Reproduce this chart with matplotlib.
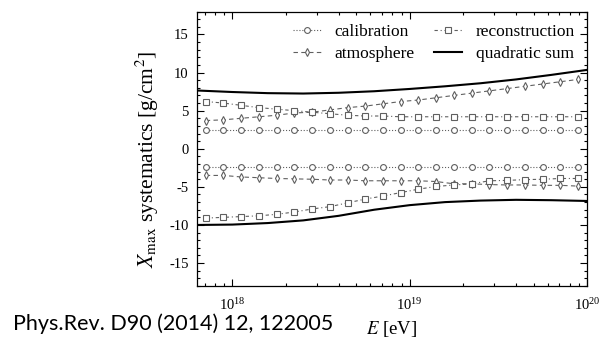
import matplotlib
matplotlib.use("Agg")
import matplotlib.pyplot as plt
import numpy as np
from matplotlib.ticker import MultipleLocator, LogLocator, NullFormatter

plt.rcParams['font.family'] = ['Liberation Serif', 'DejaVu Serif']
plt.rcParams['mathtext.fontset'] = 'stix'
plt.rcParams['axes.unicode_minus'] = False

# log10(E/eV) bin centres of the systematic points
log_e = [17.85, 17.95, 18.05, 18.15, 18.25, 18.35, 18.45, 18.55, 18.65, 18.75, 18.85,
         18.95, 19.05, 19.15, 19.25, 19.35, 19.45, 19.55, 19.65, 19.75, 19.85, 19.95]

# systematic uncertainties [g/cm^2], upper and lower
calib_up = [2.5] * 22
calib_lo = [-2.4] * 22
atmo_up = [3.7, 3.8, 4.0, 4.2, 4.4, 4.7, 4.8, 5.1, 5.4, 5.6, 5.9,
           6.2, 6.4, 6.7, 7.0, 7.3, 7.6, 7.9, 8.2, 8.5, 8.8, 9.1]
atmo_lo = [-3.5, -3.5, -3.7, -3.8, -3.9, -3.95, -4.0, -4.1, -4.1, -4.2, -4.2,
           -4.2, -4.2, -4.3, -4.6, -4.6, -4.7, -4.75, -4.75, -4.8, -4.8, -4.9]
reco_up = [6.2, 6.0, 5.7, 5.4, 5.2, 5.0, 4.8, 4.6, 4.4, 4.3, 4.3,
           4.2, 4.2, 4.2, 4.2, 4.2, 4.2, 4.2, 4.2, 4.2, 4.2, 4.2]
reco_lo = [-9.1, -9.0, -8.9, -8.8, -8.6, -8.3, -7.9, -7.6, -7.1, -6.6, -6.2,
           -5.75, -5.3, -4.95, -4.75, -4.6, -4.2, -4.15, -4.05, -4.0, -3.9, -3.9]

# quadratic sum envelope
log_e_sum = [17.8, 18.0, 18.2, 18.4, 18.6, 18.8, 19.0, 19.2, 19.4, 19.6, 19.8, 20.0]
sum_up = [7.65, 7.45, 7.3, 7.25, 7.35, 7.55, 7.85, 8.2, 8.6, 9.1, 9.7, 10.35]
sum_lo = [-10.0, -9.95, -9.75, -9.4, -8.8, -8.0, -7.4, -7.0, -6.8, -6.7, -6.75, -6.85]

energy = 10.0 ** np.array(log_e)
energy_sum = 10.0 ** np.array(log_e_sum)

fig = plt.figure(figsize=(6.02, 3.42), dpi=100)
ax = fig.add_axes([0.327, 0.164, 0.648, 0.802])

grey = '#606060'
mk = dict(markersize=4.2, markerfacecolor='white', markeredgecolor=grey,
          markeredgewidth=0.8, color=grey, linewidth=0.8)

ax.plot(energy, calib_up, linestyle=':', marker='o', label='calibration', **mk)
ax.plot(energy, calib_lo, linestyle=':', marker='o', **mk)
ax.plot(energy, atmo_up, linestyle=(0, (4, 3)), marker='d', label='atmosphere', **mk)
ax.plot(energy, atmo_lo, linestyle=(0, (4, 3)), marker='d', **mk)
ax.plot(energy, reco_up, linestyle=(0, (3, 2.5, 1, 2.5)), marker='s', label='reconstruction', **mk)
ax.plot(energy, reco_lo, linestyle=(0, (3, 2.5, 1, 2.5)), marker='s', **mk)
ax.plot(energy_sum, sum_up, color='black', linewidth=1.5, label='quadratic sum')
ax.plot(energy_sum, sum_lo, color='black', linewidth=1.5)

ax.set_xscale('log')
ax.set_xlim(10 ** 17.8, 1e20)
ax.set_ylim(-18, 18)

ax.yaxis.set_major_locator(MultipleLocator(5))
ax.yaxis.set_minor_locator(MultipleLocator(1))
ax.xaxis.set_major_locator(LogLocator(base=10, numticks=10))
ax.xaxis.set_minor_locator(LogLocator(base=10, subs=np.arange(2, 10), numticks=20))
ax.xaxis.set_minor_formatter(NullFormatter())

ax.tick_params(which='both', direction='in', top=True, right=True, width=0.8)
ax.tick_params(which='major', length=5)
ax.tick_params(which='minor', length=2.5)
ax.tick_params(axis='x', which='major', labelsize=10.5, pad=8)
ax.tick_params(axis='y', which='major', labelsize=10.5, pad=6)
for s in ax.spines.values():
    s.set_linewidth(0.9)

ax.set_xlabel('$E$ [eV]', fontsize=13.5)
ax.xaxis.set_label_coords(0.5, -0.12)
ax.set_ylabel(r'$X_{\rm max}$ systematics [g/cm$^2$]', fontsize=15.5)
ax.yaxis.set_label_coords(-0.093, 0.46)

ax.legend(ncol=2, loc='upper right', frameon=False, fontsize=12.5,
          handlelength=1.6, handletextpad=0.8, columnspacing=1.1,
          labelspacing=0.35, borderaxespad=0.3)

fig.text(0.022, 0.035, 'Phys.Rev. D90 (2014) 12, 122005',
         family=['Lato', 'DejaVu Sans'], fontsize=15.5)

fig.savefig('out.png', dpi=100)
